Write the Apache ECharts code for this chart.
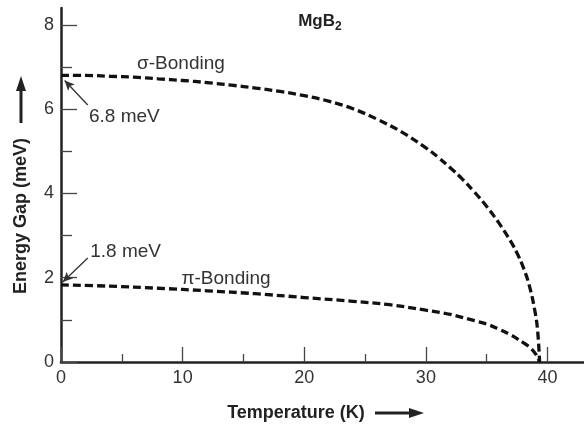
<!DOCTYPE html>
<html>
<head>
<meta charset="utf-8">
<script src="https://cdn.jsdelivr.net/npm/echarts@6/dist/echarts.min.js"></script>
<style>html,body{margin:0;padding:0;background:#fff}#c{width:584px;height:424px}</style>
</head>
<body>
<div id="c"></div>
<script>
// Data
var sigmaT = [0, 2, 4, 6, 8, 10, 12, 14, 16, 18, 20, 22, 24, 26, 28, 30, 31, 32, 33, 34, 35, 36, 37, 37.5, 38, 38.5, 39, 39.2, 39.35];
var sigmaV = [6.80, 6.80, 6.78, 6.76, 6.72, 6.68, 6.63, 6.57, 6.50, 6.42, 6.32, 6.19, 6.01, 5.76, 5.46, 5.08, 4.86, 4.61, 4.34, 4.03, 3.69, 3.30, 2.85, 2.58, 2.25, 1.82, 1.15, 0.70, 0];
var piT = [0, 4, 8, 12, 16, 20, 24, 27, 30, 32, 34, 35, 36, 37, 38, 38.5, 39, 39.35];
var piV = [1.83, 1.80, 1.75, 1.69, 1.62, 1.53, 1.44, 1.36, 1.23, 1.13, 0.98, 0.90, 0.78, 0.64, 0.46, 0.36, 0.20, 0];
var xMajorTicks = [0, 10, 20, 30, 40];
var xMinorTicks = [5, 15, 25, 35];
var yMajorTicks = [0, 2, 4, 6, 8];
var yMinorTicks = [1, 3, 5, 7];

function pairs(xs, ys) { return xs.map(function (x, i) { return [x, ys[i]]; }); }

var FONT = 'Liberation Sans, Arial, Helvetica, sans-serif';
var chart = echarts.init(document.getElementById('c'));
var dashStyle = { color: '#111', width: 3.3, type: [8, 4] };
var tickStyle = { color: '#444', width: 1.3 };
var arrowLine = function (from, to) {
  return {
    silent: true, symbol: ['none', 'arrow'], symbolSize: [7, 10],
    label: { show: false },
    lineStyle: { color: '#333', width: 1.3, type: 'solid' },
    data: [[{ coord: from }, { coord: to }]]
  };
};
var labelStyle = { margin: 7, color: '#333', fontSize: 18, fontFamily: FONT };

chart.setOption({
  animation: false,
  grid: { left: 61, right: 0, top: 8, bottom: 62 },
  xAxis: [
    {
      type: 'value', min: 0, max: 43,
      axisLine: { show: true, lineStyle: { color: '#222', width: 2.5 } },
      axisTick: { show: true, inside: true, length: 15, customValues: xMajorTicks, lineStyle: tickStyle },
      splitLine: { show: false },
      axisLabel: Object.assign({ customValues: xMajorTicks }, labelStyle)
    },
    {
      type: 'value', min: 0, max: 43, position: 'bottom',
      axisLine: { show: false },
      axisTick: { show: true, inside: true, length: 8, customValues: xMinorTicks, lineStyle: tickStyle },
      splitLine: { show: false },
      axisLabel: { show: false }
    }
  ],
  yAxis: [
    {
      type: 'value', min: 0, max: 8.4,
      axisLine: { show: true, lineStyle: { color: '#222', width: 2.5 } },
      axisTick: { show: true, inside: true, length: 16, customValues: yMajorTicks, lineStyle: tickStyle },
      splitLine: { show: false },
      axisLabel: Object.assign({ customValues: yMajorTicks }, labelStyle)
    },
    {
      type: 'value', min: 0, max: 8.4, position: 'left',
      axisLine: { show: false },
      axisTick: { show: true, inside: true, length: 11, customValues: yMinorTicks, lineStyle: tickStyle },
      splitLine: { show: false },
      axisLabel: { show: false }
    }
  ],
  series: [
    {
      name: 'σ-Bonding', type: 'line', smooth: 0.4, symbol: 'none',
      data: pairs(sigmaT, sigmaV), lineStyle: dashStyle,
      markLine: arrowLine([2.2, 6.1], [0.3, 6.68])
    },
    {
      name: 'π-Bonding', type: 'line', smooth: 0.4, symbol: 'none',
      data: pairs(piT, piV), lineStyle: dashStyle,
      markLine: arrowLine([2.2, 2.47], [0.15, 1.9])
    }
  ]
});

function px(p) { return chart.convertToPixel({ gridIndex: 0 }, p); }
function txt(pos, text, opts) {
  var p = px(pos);
  return {
    type: 'text', x: p[0], y: p[1], silent: true,
    style: Object.assign({ text: text, fill: '#333', font: '19px ' + FONT, align: 'left', verticalAlign: 'middle' }, opts || {})
  };
}
var mg = px([19.5, 8.08]);

chart.setOption({
  graphic: [
    txt([6.25, 7.08], 'σ-Bonding'),
    txt([2.3, 5.82], '6.8 meV'),
    txt([2.4, 2.61], '1.8 meV'),
    txt([9.9, 1.97], 'π-Bonding'),
    {
      type: 'text', x: mg[0], y: mg[1], silent: true,
      style: {
        text: '{b|MgB}{s|2}', align: 'left', verticalAlign: 'middle',
        rich: {
          b: { font: 'bold 17px ' + FONT, fill: '#222' },
          s: { font: 'bold 12px ' + FONT, fill: '#222', padding: [10, 0, 0, 0] }
        }
      }
    },
    // axis titles
    {
      type: 'text', x: 296, y: 413, silent: true,
      style: { text: 'Temperature (K)', font: 'bold 18px ' + FONT, fill: '#222', align: 'center', verticalAlign: 'middle' }
    },
    { type: 'line', silent: true, shape: { x1: 375, y1: 413, x2: 412, y2: 413 }, style: { stroke: '#222', lineWidth: 3 } },
    { type: 'polygon', silent: true, shape: { points: [[409, 408], [424, 413], [409, 418]] }, style: { fill: '#222' } },
    {
      type: 'text', x: 21, y: 216, rotation: Math.PI / 2, silent: true,
      style: { text: 'Energy Gap (meV)', font: 'bold 18px ' + FONT, fill: '#222', align: 'center', verticalAlign: 'middle' }
    },
    { type: 'line', silent: true, shape: { x1: 21, y1: 123, x2: 21, y2: 88 }, style: { stroke: '#222', lineWidth: 3 } },
    { type: 'polygon', silent: true, shape: { points: [[16, 91], [21, 76], [26, 91]] }, style: { fill: '#222' } }
  ]
});
</script>
</body>
</html>
